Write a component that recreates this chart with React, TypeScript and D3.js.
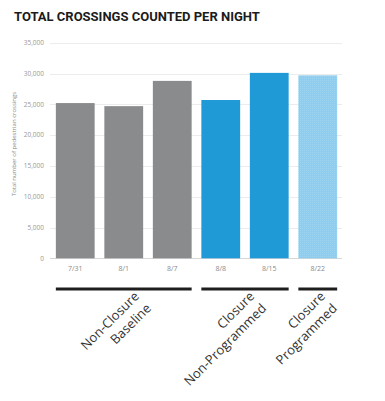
import React, { useEffect, useRef } from "react";
import * as d3 from "d3";

const dates = ["7/31", "8/1", "8/7", "8/8", "8/15", "8/22"];
const crossings = [25200, 24700, 28800, 25700, 30100, 29700];
const barKinds = ["base", "base", "base", "closure", "closure", "programmed"];
const yTicks = [0, 5000, 10000, 15000, 20000, 25000, 30000, 35000];
const groupLines1 = ["Non-Closure", "Closure", "Closure"];
const groupLines2 = ["Baseline", "Non-Programmed", "Programmed"];
const groupFirst = ["7/31", "8/8", "8/22"];
const groupLast = ["8/7", "8/15", "8/22"];

const W = 385;
const H = 401;
const labelShift = [9, 3, 1];

export default function App() {
  const svgRef = useRef<SVGSVGElement>(null);

  useEffect(() => {
    const svg = d3.select(svgRef.current);
    svg.selectAll("*").remove();

    const x = d3.scaleBand().domain(dates).range([51, 342]).paddingInner(0.2).paddingOuter(0.1);
    const y = d3.scaleLinear().domain([0, 35000]).range([258.3, 42.7]);

    const defs = svg.append("defs");
    const pat = defs
      .append("pattern")
      .attr("id", "dots")
      .attr("width", 2)
      .attr("height", 2)
      .attr("patternUnits", "userSpaceOnUse");
    pat.append("rect").attr("width", 2).attr("height", 2).attr("fill", "#8fcdee");
    pat.append("rect").attr("width", 1).attr("height", 1).attr("fill", "#9dd4f1");

    // title
    svg
      .append("text")
      .attr("x", 14)
      .attr("y", 21)
      .attr("font-family", "Roboto, sans-serif")
      .attr("font-weight", 700)
      .attr("font-size", 13)
      .attr("fill", "#1b1b1b")
      .text("TOTAL CROSSINGS COUNTED PER NIGHT");

    // grid
    svg
      .append("g")
      .selectAll("line")
      .data(yTicks)
      .join("line")
      .attr("x1", 50)
      .attr("x2", 342)
      .attr("y1", (d) => Math.round(y(d)) + 0.5)
      .attr("y2", (d) => Math.round(y(d)) + 0.5)
      .attr("stroke", (d) => (d === 0 ? "#d6d6d6" : "#ececec"))
      .attr("stroke-width", 1);

    svg
      .append("g")
      .selectAll("text")
      .data(yTicks)
      .join("text")
      .attr("x", 44)
      .attr("y", (d) => y(d) + 2.2)
      .attr("text-anchor", "end")
      .attr("font-family", "Open Sans, sans-serif")
      .attr("font-size", 6.5)
      .attr("fill", "#999")
      .text((d) => d3.format(",")(d));

    svg
      .append("text")
      .attr("transform", "translate(16,144) rotate(-90)")
      .attr("text-anchor", "middle")
      .attr("font-family", "Open Sans, sans-serif")
      .attr("font-size", 6)
      .attr("fill", "#888")
      .text("Total number of pedestrian crossings");

    const fills: Record<string, string> = { base: "#8a8b8d", closure: "#1f9ad6", programmed: "url(#dots)" };

    svg
      .append("g")
      .selectAll("rect")
      .data(crossings)
      .join("rect")
      .attr("x", (_, i) => x(dates[i])!)
      .attr("width", x.bandwidth())
      .attr("y", (d) => y(d))
      .attr("height", (d) => y(0) - y(d))
      .attr("fill", (_, i) => fills[barKinds[i]]);

    svg
      .append("g")
      .selectAll("text")
      .data(dates)
      .join("text")
      .attr("x", (d) => x(d)! + x.bandwidth() / 2)
      .attr("y", 270.5)
      .attr("text-anchor", "middle")
      .attr("font-family", "Open Sans, sans-serif")
      .attr("font-size", 7)
      .attr("fill", "#8a8a8a")
      .text((d) => d);

    // group brackets
    const g = svg.append("g");
    groupLines1.forEach((l1, i) => {
      const x0 = x(groupFirst[i])!;
      const x1 = x(groupLast[i])! + x.bandwidth();
      g.append("line")
        .attr("x1", x0)
        .attr("x2", x1)
        .attr("y1", 289)
        .attr("y2", 289)
        .attr("stroke", "#1e1e1e")
        .attr("stroke-width", 3);
      const cx = (x0 + x1) / 2 + labelShift[i];
      const t = g
        .append("text")
        .attr("transform", `translate(${cx},${290}) rotate(-45)`)
        .attr("text-anchor", "end")
        .attr("font-family", "Open Sans, sans-serif")
        .attr("font-size", 13)
        .attr("fill", "#333");
      t.append("tspan").attr("x", 0).attr("y", 10).text(l1);
      t.append("tspan").attr("x", 0).attr("y", 27).text(groupLines2[i]);
    });
  }, []);

  return (
    <svg
      ref={svgRef}
      width={W}
      height={H}
      style={{ position: "absolute", left: 0, top: 0, background: "#fff" }}
    />
  );
}
